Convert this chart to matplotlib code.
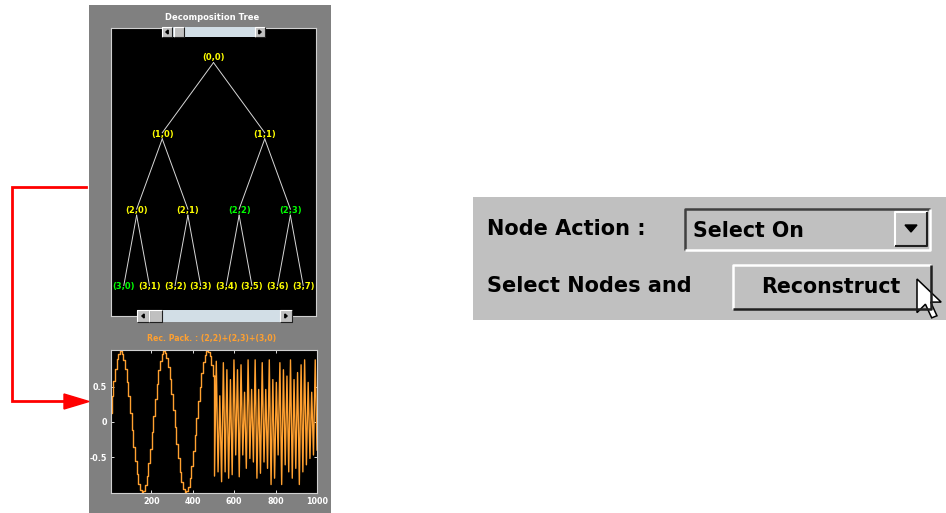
# Wavelet packet GUI snapshot: decomposition tree, reconstructed packet, controls
import numpy as np
import matplotlib
matplotlib.use('Agg')
import matplotlib.pyplot as plt
from matplotlib.patches import Rectangle, Polygon

W, H = 946, 513

# tree: depth 3, nodes picked for the reconstruction shown in green
tree_depth = 3
selected_nodes = [(2, 2), (2, 3), (3, 0)]
tree_title = 'Decomposition Tree'
signal_title = 'Rec. Pack. : (2,2)+(2,3)+(3,0)'

# reconstructed signal, first half: one value per block of 8 samples
lf_block = 8
lf_values = [0.13, 0.37, 0.58, 0.75, 0.89, 0.97, 1.00, 0.97, 0.88, 0.75, 0.57, 0.36,
             0.13, -0.11, -0.35, -0.56, -0.74, -0.88, -0.97, -1.00, -0.98, -0.90, -0.77,
             -0.59, -0.38, -0.15, 0.09, 0.33, 0.54, 0.73, 0.87, 0.96, 1.00, 0.98, 0.91,
             0.78, 0.61, 0.40, 0.17, -0.07, -0.31, -0.52, -0.71, -0.86, -0.96, -1.00,
             -0.98, -0.92, -0.80, -0.63, -0.42, -0.19, 0.05, 0.29, 0.50, 0.69, 0.85,
             0.95, 1.00, 0.99, 0.93, 0.81, 0.65]
# second half: alternating troughs and peaks
hf_start, hf_end = 505, 1000
hf_values = [-0.77, 0.86, -0.71, 0.37, -0.85, 0.84, -0.71, 0.74, -0.80, 0.60,
             -0.75, 0.88, -0.47, 0.74, -0.78, 0.81, -0.47, 0.42, -0.66, 0.88,
             -0.52, 0.46, -0.57, 0.88, -0.80, 0.46, -0.73, 0.84, -0.57, 0.46,
             -0.66, 0.88, -0.89, 0.60, -0.80, 0.56, -0.47, 0.84, -0.89, 0.74,
             -0.61, 0.65, -0.71, 0.88, -0.80, 0.60, -0.66, 0.70, -0.89, 0.81,
             -0.71, 0.88, -0.61, 0.56, -0.52, 0.42, -0.47, 0.88, -0.40]

x_ticks = [200, 400, 600, 800, 1000]
y_ticks = [0.5, 0, -0.5]
y_tick_labels = ['0.5', '0', '-0.5']

GRAY = '#808080'
PANEL = '#c0c0c0'
ORANGE = '#ffa030'
BOLD = dict(family='DejaVu Sans', fontweight='bold')


def px_axes(fig, x0, y0, x1, y1):
    return fig.add_axes([x0 / W, 1 - y1 / H, (x1 - x0) / W, (y1 - y0) / H])


def pixel_layer(fig):
    ax = fig.add_axes([0, 0, 1, 1])
    ax.set_xlim(0, W)
    ax.set_ylim(H, 0)
    ax.axis('off')
    ax.patch.set_alpha(0)
    return ax


def bevel(ax, x0, y0, x1, y1, raised=True, face=PANEL, lw=1.2):
    ax.add_patch(Rectangle((x0, y0), x1 - x0, y1 - y0, facecolor=face, edgecolor='none'))
    light, dark = ('white', '#202020') if raised else ('#404040', 'white')
    ax.plot([x0, x0, x1], [y1, y0, y0], color=light, lw=lw, solid_capstyle='butt')
    ax.plot([x0, x1, x1], [y1, y1, y0], color=dark, lw=lw, solid_capstyle='butt')


def scrollbar(ax, x0, x1, y0, y1, bw, t0, t1):
    ax.add_patch(Rectangle((x0, y0), x1 - x0, y1 - y0, facecolor='#d2dee6', edgecolor='none'))
    bevel(ax, x0, y0, x0 + bw, y1, lw=0.8)
    bevel(ax, x1 - bw, y0, x1, y1, lw=0.8)
    bevel(ax, t0, y0, t1, y1, lw=0.8)
    ym = (y0 + y1) / 2
    cl = x0 + bw / 2
    cr = x1 - bw / 2
    ax.add_patch(Polygon([[cl + 1.2, ym - 2], [cl + 1.2, ym + 2], [cl - 1.2, ym]], color='black'))
    ax.add_patch(Polygon([[cr - 1.2, ym - 2], [cr - 1.2, ym + 2], [cr + 1.2, ym]], color='black'))


fig = plt.figure(figsize=(W / 100, H / 100), dpi=100, facecolor='white')

# background layer in pixel coordinates
bg = pixel_layer(fig)
bg.add_patch(Rectangle((89, 5), 242, 510, facecolor=GRAY, edgecolor='none'))
bg.text(212, 18, tree_title, color='white', fontsize=6.0, ha='center', va='center', **BOLD)
bg.text(212, 339, signal_title, color=ORANGE, fontsize=5.6, ha='center', va='center', **BOLD)

# red arrow linking the tree panel to the signal
bg.plot([86, 12, 12, 66], [187, 187, 401, 401], color='red', lw=2, solid_joinstyle='miter')
bg.add_patch(Polygon([[64, 394], [64, 409], [89, 401.5]], color='red'))

# control panel on the right
bg.add_patch(Rectangle((473, 197), 473, 123, facecolor=PANEL, edgecolor='none'))
bg.text(487, 229, 'Node Action :', color='black', fontsize=15, ha='left', va='center', **BOLD)
bg.text(487, 286, 'Select Nodes and', color='black', fontsize=15, ha='left', va='center', **BOLD)
bevel(bg, 685, 209, 930, 250, raised=False, lw=1.8)
bg.text(693, 231, 'Select On', color='black', fontsize=14.8, ha='left', va='center', **BOLD)
bevel(bg, 895, 212, 927, 246, lw=1.5)
bg.add_patch(Polygon([[905, 225], [917, 225], [911, 232]], color='black'))
bevel(bg, 733, 265, 931, 309, lw=1.8)
bg.text(831, 287, 'Reconstruct', color='black', fontsize=14.8, ha='center', va='center', **BOLD)
cursor = np.array([[0, 0], [0, 16], [4, 12], [7, 18.5], [9.5, 17.5], [6.5, 11], [11.5, 11]]) * 2.1
bg.add_patch(Polygon(cursor + [917, 279], facecolor='white', edgecolor='black', lw=1.1))

# decomposition tree
tax = px_axes(fig, 111, 28, 316, 316)
tax.set_facecolor('black')
n_leaves = 2 ** tree_depth
tax.set_xlim(0, n_leaves)
tax.set_ylim(tree_depth + 0.38, -0.393)
tax.set_xticks([])
tax.set_yticks([])
for s in tax.spines.values():
    s.set_color('#d0d0d0')
    s.set_linewidth(0.8)

for d in range(tree_depth + 1):
    span = n_leaves / 2 ** d
    for i in range(2 ** d):
        x = (i + 0.5) * span
        if d < tree_depth:
            for j in (2 * i, 2 * i + 1):
                xc = (j + 0.5) * span / 2
                tax.plot([x, xc], [d + 0.06, d + 1 - 0.02], color='#d8d8d8', lw=0.7)
        col = '#00ff00' if (d, i) in selected_nodes else '#ffff00'
        tax.text(x, d, f'({d},{i})', color=col, fontsize=6.0, ha='center', va='center', **BOLD)

# reconstructed packet signal
sax = px_axes(fig, 111, 350, 317, 493)
sax.set_facecolor('black')
t_lf = np.arange(len(lf_values)) * lf_block + 1
t_lf = np.append(t_lf, t_lf[-1] + lf_block)
v_lf = lf_values + [lf_values[-1]]
sax.plot(t_lf, v_lf, color=ORANGE, lw=1.0, drawstyle='steps-post')
t_hf = np.linspace(hf_start, hf_end, len(hf_values))
sax.plot(np.r_[t_lf[-1], t_hf], np.r_[v_lf[-1], hf_values], color=ORANGE, lw=1.0)
sax.set_xlim(5, 1000)
sax.set_ylim(-1.01, 1.02)
sax.set_xticks(x_ticks)
sax.set_yticks(y_ticks)
sax.set_yticklabels(y_tick_labels)
sax.tick_params(direction='in', length=2, width=0.6, color='white', labelcolor='white',
                labelsize=5.8, pad=3, top=True, right=True)
for lab in sax.get_xticklabels() + sax.get_yticklabels():
    lab.set_fontweight('bold')
for s in sax.spines.values():
    s.set_color('#d0d0d0')
    s.set_linewidth(0.8)

# scrollbars sit on top of the tree frame
top = pixel_layer(fig)
scrollbar(top, 162, 265, 27, 37, 10, 174, 184)
scrollbar(top, 137, 292, 310, 322, 12, 149, 162)

fig.savefig('out.png', dpi=100, facecolor='white')
